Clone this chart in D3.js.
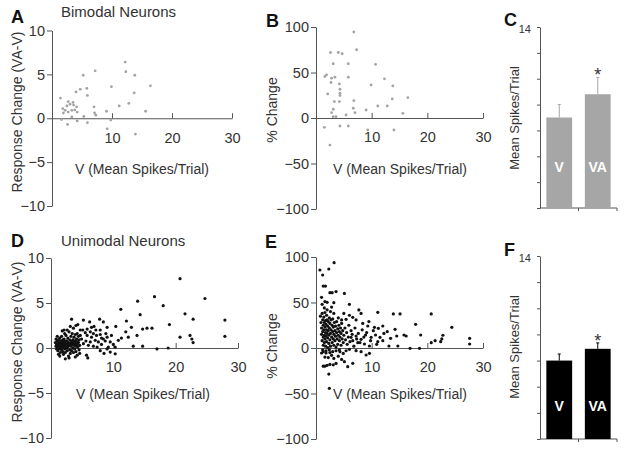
<!DOCTYPE html>
<html><head><meta charset="utf-8">
<script src="https://cdn.jsdelivr.net/npm/d3@7"></script>
<style>body{margin:0;background:#fff} svg{display:block} text{font-family:"Liberation Sans",Arial,sans-serif}</style>
</head><body><svg id="c" width="624" height="450"></svg>
<script>
// ---- data ----
const bimodalChange = [
[12.2,6.4],[5.2,4.9],[7.2,5.4],[12.3,5.3],[13.8,4.9],[9.9,3.6],[16.4,3.7],[4.7,3.3],[4.0,3.0],[5.8,3.4],[5.9,2.6],[13.7,2.9],[1.4,2.3],[2.7,1.9],[11.2,1.4],[12.8,1.7],[7.0,1.3],[9.1,0.8],[15.6,0.8],
[3.0,1.6],[3.6,1.5],[4.1,1.3],[3.8,0.95],[3.3,0.9],[2.7,0.7],[2.2,0.9],[1.8,1.1],[2.5,1.4],[4.2,0.7],[3.5,1.8],
[1.9,0.6],[7.1,0.6],[7.3,0.35],[5.3,0.2],[3.3,0.15],[1.6,-0.15],[4.2,-0.3],[5.9,-0.5],[2.6,-0.7],[9.8,-0.2],[9.2,-1.2],[13.9,-1.8]
];
const bimodalPct = [
[6.8,94.5],[7.3,75],[2.6,72],[4.0,72],[4.7,70.6],[3.1,59.6],[5.8,59.6],[10.7,59],[1.9,47.4],[1.6,45.6],[2.8,43.8],[3.4,44.9],[2.7,39],[5.8,44.9],[12.3,43],[9.9,36.4],[4.2,37.5],[13.8,35.3],[4.3,31.6],[4.3,27.2],[2.1,26.5],[4.3,24.6],[13.7,21],[16.5,22.4],[3.3,18],[4.2,18],[6.8,19],[11.1,13.2],[12.8,13.2],[6.7,10.7],[3.1,9.6],[9.0,8.8],[2.8,5.9],[7.0,5.9],[15.6,5.1],[5.4,3.3],[3.1,1.5],[3.6,1.5],[1.5,-10.3],[4.3,-8.8],[5.8,-8.8],[9.3,-13.2],[14.0,-13.2],[2.5,-29.8]
];
const unimodalChange = [
[20.7,7.7],[24.7,5.5],[16.6,5.7],[13.9,5.2],[18.0,4.7],[11.2,4.3],[14.3,3.7],[21.5,3.8],[22.8,3.2],[3.3,3.2],[5.2,3.1],[7.8,3.2],[6.2,2.9],[12.1,3.0],[8.4,2.9],[15.4,2.2],[16.2,2.2],[14.7,2.1],[19.0,2.6],[12.9,2.3],[10.4,2.4],[9.0,2.3],[6.9,2.4],[9.7,1.4],[12.0,1.8],[12.4,1.2],[13.8,1.4],[20.7,1.2],[22.3,1.4],[22.6,1.0],[22.8,0.6],[10.8,0.85],[11.3,1.1],[13.2,0.2],[14.7,0.2],[17.0,-0.1],[18.8,0.0],[9.0,-0.1],[9.5,-0.45],[10.3,-0.65],[8.5,-0.6],[7.9,-0.3],[5.9,-1.1],[5.7,-0.8],[4.6,-0.6],[27.9,3.1],[27.9,1.3],
[5.1,2.0],[5.5,1.7],[5.8,1.4],[6.3,1.8],[6.5,1.2],[6.8,1.6],[7.3,1.4],[7.9,2.0],[8.1,1.1],[7.1,0.85],[7.6,0.67],[6.3,0.67],[5.6,0.78],[5.2,0.48],[6.0,0.3],[6.8,0.2],[7.4,0.1],[8.1,0.4],[8.7,0.78],[8.8,1.6],[4.7,1.4],[4.9,1.0],[4.2,1.6],[4.7,2.0],[5.8,2.1],[6.5,2.3],[7.2,2.0],[7.9,1.5],[8.4,1.0],[9.0,1.2],[9.5,0.67],[10.0,0.4],[10.3,0.1],[9.2,0.1],
[0.7,0.6],[0.8,0.2],[0.9,-0.1],[0.9,0.4],[1.0,0.8],[1.0,0.0],[1.1,0.5],[1.1,-0.3],[1.2,0.2],[1.2,0.9],[1.3,0.6],[1.3,-0.1],[1.4,0.3],[1.4,1.1],[1.5,0.0],[1.5,0.5],[1.5,-0.5],[1.6,0.8],[1.6,0.2],[1.7,-0.2],[1.7,0.4],[1.7,1.3],[1.8,0.6],[1.8,0.0],[1.9,0.3],[1.9,-0.4],[1.9,0.9],[2.0,0.1],[2.0,0.6],[2.0,-0.7],[2.1,0.4],[2.1,1.0],[2.2,-0.1],[2.2,0.7],[2.3,0.2],[2.3,-0.5],[2.4,0.5],[2.4,1.4],[2.5,0.0],[2.5,0.8],[2.6,-0.3],[2.6,0.4],[2.7,1.1],[2.7,0.1],[2.8,-0.9],[2.8,0.6],[2.9,0.3],[2.9,1.8],[3.0,-0.2],[3.0,0.9],[3.1,0.5],[3.1,-0.6],[3.2,1.3],[3.2,0.2],[3.3,0.7],[3.3,-0.3],[3.4,0.4],[3.4,1.6],[3.5,0.0],[3.5,0.9],[3.6,0.6],[3.6,-0.5],[3.7,0.3],[3.7,1.2],[3.8,0.8],[3.8,-0.1],[3.9,0.5],[3.9,1.5],[4.0,0.2],[4.0,-0.4],[4.1,0.7],[4.1,1.0],[4.2,0.4],[4.2,-0.8],[4.3,0.1],[4.4,0.6],[4.4,1.3],[4.5,-0.2],[4.5,0.9],[1.2,-0.7],[2.2,1.6],[1.0,1.3],[3.6,2.2],[2.3,-1.2],[3.9,-1.0],[4.6,0.3],[0.8,1.0],[2.6,2.0],[4.0,2.5],[1.4,-0.9],[2.9,-1.1],[3.1,2.4],[4.3,2.6],[2.1,2.0],[1.8,1.9]
];
const unimodalPct = [
[3.25,93.8],[2.3,86.8],[0.7,85.7],[1.2,80.2],[1.3,68],[1.7,68],[2.5,60.8],[2.9,60.8],[3.6,62],[5.1,60],[1.0,55.7],[1.6,51],[2.0,50.2],[3.2,49.8],[6.0,48],[7.7,41.8],[8.1,38],[11.1,39.2],[13.9,37.4],[15.1,37.4],[20.7,37.4],[17.9,26],[5.0,38],[6.0,36],[6.6,33.7],[5.4,31.5],[4.6,30.8],[7.2,30.8],[8.4,27],[9.5,29],[9.3,24.2],[10.5,22.7],[11.2,21.6],[12.0,24.2],[12.8,18],[14.2,20.5],[15.8,14.3],[16.2,13.2],[14.5,13.2],[13.4,10.6],[12.2,16],[11.5,11.7],[10.7,14.3],[9.9,11.7],[8.9,14.3],[8.1,9.5],[7.2,13.2],[6.3,11.7],[6.6,8],[7.5,5.9],[8.7,4.4],[9.6,2.2],[11.1,7],[12.0,8],[13.1,2.2],[14.7,2.2],[16.9,-0.4],[18.6,-0.4],[18.8,14.3],[20.7,5.9],[21.4,8],[24.4,22.7],[27.6,10.6],[27.6,4.4],[22.4,7],[22.6,10],[22.8,14],
[2.4,-44.3],[2.3,-28.6],[1.3,-20],[1.6,-20],[2.0,-19],[2.5,-18],[3.1,-18.5],[3.6,-17],[5.7,-20.5],[5.1,-15],[4.6,-12.5],[6.6,-16.8],[9.6,-5.9],[9.0,-7.7],[8.1,-4],[7.2,-2.9],[1.6,-10],[2.2,-10.5],[2.8,-8],[3.2,-11.5],[4.0,-9],[1.0,-5.5],[1.3,-4],[1.8,-5.5],[2.5,-5],[4.3,-4],[4.9,-6],[5.4,-3],[6.0,-1.5],
[0.8,35],[0.9,28],[1.0,22],[1.0,15],[1.1,38],[1.1,8],[1.2,31],[1.2,18],[1.3,25],[1.3,12],[1.3,3],[1.4,34],[1.4,20],[1.5,28],[1.5,14],[1.5,6],[1.6,39],[1.6,23],[1.6,10],[1.7,17],[1.7,30],[1.7,2],[1.8,26],[1.8,13],[1.9,36],[1.9,20],[1.9,7],[2.0,31],[2.0,16],[2.1,24],[2.1,11],[2.1,0.5],[2.2,29],[2.2,19],[2.3,14],[2.3,5],[2.4,33],[2.4,22],[2.5,9],[2.5,27],[2.6,16],[2.6,2],[2.7,31],[2.7,20],[2.8,12],[2.9,25],[2.9,6],[3.0,18],[3.0,32],[3.1,10],[3.1,23],[3.2,15],[3.2,3],[3.3,28],[3.4,19],[3.4,8],[3.5,24],[3.5,13],[3.6,1],[3.7,17],[3.7,29],[3.8,10],[3.9,21],[3.9,4],[4.0,14],[4.0,33],[4.1,25],[4.2,8],[4.2,18],[4.3,12],[4.4,22],[4.5,3],[4.5,16],[4.6,27],[4.7,10],[4.8,19],[4.9,6],[5.0,14],[5.2,22],[5.3,9],[5.5,17],[5.6,4],[5.8,12],[5.9,25],[6.1,7],[6.3,19],[6.5,15],[6.8,2],[7.0,22],[7.3,10],[7.6,16],[7.9,6],[8.3,20],[8.6,12],[9.1,17],[9.8,8],[10.3,19],[10.9,4],[1.2,-2],[1.8,-3],[2.4,-2],[3.0,-4],[3.6,-3],[4.2,-2],[1.5,44],[2.0,42],[2.6,40],[3.2,38],[1.1,48],[2.8,45]
];
const barCats = ["V","VA"];
const bimodalMeans = [7.0, 8.8];
const bimodalErr = [1.0, 1.3];
const unimodalMeans = [6.0, 6.9];
const unimodalErr = [0.5, 0.45];
const changeTicks = [-10,-5,0,5,10];
const pctTicks = [-100,-50,0,50,100];
const xTicks = [10,20,30];
const barTicks = [0,2,4,6,8,10,12,14];

// ---- drawing ----
const svg = d3.select("#c");
const AX = "#555", TX = "#333";

function styleAxis(g, fs){
  g.selectAll("path,line").attr("stroke", AX).attr("stroke-width", 1);
  g.selectAll("text").attr("fill", TX).attr("font-size", fs);
}

function scatter(o){
  const x = d3.scaleLinear().domain([0,30]).range([o.x0, o.x1]);
  const y = d3.scaleLinear().domain(o.ydom).range([o.yb, o.yt]);
  const ya = svg.append("g").attr("transform", `translate(${o.x0},0)`)
    .call(d3.axisLeft(y).tickValues(o.yticks).tickSize(5).tickPadding(2).tickSizeOuter(0));
  styleAxis(ya, 14.5);
  const xa = svg.append("g").attr("transform", `translate(0,${y(0)})`)
    .call(d3.axisBottom(x).tickValues(xTicks).tickSize(-5).tickPadding(14).tickSizeOuter(0));
  styleAxis(xa, 14.5);
  svg.append("text").attr("x", o.xlx).attr("y", o.xly).attr("fill", TX).attr("font-size", 14)
    .attr("text-anchor", "middle").text("V (Mean Spikes/Trial)");
  svg.append("text").attr("transform", `translate(${o.ylx},${o.yly}) rotate(-90)`)
    .attr("fill", TX).attr("font-size", 14).attr("text-anchor", "middle").text(o.ylabel);
  svg.append("g").selectAll("circle").data(o.data).join("circle")
    .attr("cx", d => x(d[0])).attr("cy", d => y(d[1])).attr("r", o.r).attr("fill", o.color);
}

function bars(o){
  const x = d3.scaleBand().domain(barCats).range([o.x0, o.x1]).paddingInner(0.33).paddingOuter(0.165);
  const y = d3.scaleLinear().domain([0,14]).range([o.yb, o.yt]);
  const ya = svg.append("g").attr("transform", `translate(${o.x0},0)`)
    .call(d3.axisLeft(y).tickValues(barTicks).tickSize(3).tickPadding(6).tickSizeOuter(0)
      .tickFormat(d => d === 14 ? "14" : ""));
  styleAxis(ya, 11);
  ya.selectAll("text").attr("transform", "translate(0,2)");
  const bounds = [x.range()[0], x("VA") - x.step()*x.paddingInner()/2, x.range()[1]];
  svg.append("line").attr("x1", o.x0).attr("x2", o.x1).attr("y1", y(0)).attr("y2", y(0)).attr("stroke", AX);
  svg.append("g").selectAll("line").data(bounds.slice(1)).join("line")
    .attr("x1", d => d).attr("x2", d => d).attr("y1", y(0)).attr("y2", y(0)+3).attr("stroke", AX);
  const g = svg.append("g");
  barCats.forEach((c, i) => {
    const cx = x(c) + x.bandwidth()/2;
    g.append("line").attr("x1", cx).attr("x2", cx).attr("y1", y(o.means[i])).attr("y2", y(o.means[i]+o.errs[i]))
      .attr("stroke", o.color).attr("stroke-width", 1);
    g.append("line").attr("x1", cx-1.5).attr("x2", cx+1.5).attr("y1", y(o.means[i]+o.errs[i])).attr("y2", y(o.means[i]+o.errs[i]))
      .attr("stroke", o.color).attr("stroke-width", 1);
    g.append("rect").attr("x", x(c)).attr("width", x.bandwidth()).attr("y", y(o.means[i]))
      .attr("height", y(0) - y(o.means[i])).attr("fill", o.color);
    g.append("text").attr("x", cx).attr("y", y(0) - o.lab).attr("dy", "0.35em").attr("text-anchor", "middle")
      .attr("fill", "#fff").attr("font-weight", "bold").attr("font-size", 14).text(c);
  });
  const cv = x("VA") + x.bandwidth()/2;
  svg.append("text").attr("x", cv).attr("y", y(o.means[1]+o.errs[1]) + 4).attr("text-anchor", "middle")
    .attr("fill", TX).attr("font-size", 18).text("*");
  svg.append("text").attr("transform", `translate(${o.ylx},${o.yly}) rotate(-90)`)
    .attr("fill", TX).attr("font-size", 13).attr("text-anchor", "middle").text("Mean Spikes/Trial");
}

function letter(t, x, y){
  svg.append("text").attr("x", x).attr("y", y).attr("font-size", 18).attr("font-weight", "bold").attr("fill", "#111").text(t);
}

scatter({x0:52, x1:232, yb:206, yt:30.5, ydom:[-10,10], yticks:changeTicks, data:bimodalChange, color:"#a3a3a3", r:1.4,
  xlx:142, xly:174, ylx:22, yly:112, ylabel:"Response Change (VA-V)"});
scatter({x0:316, x1:483, yb:209, yt:27, ydom:[-100,100], yticks:pctTicks, data:bimodalPct, color:"#a3a3a3", r:1.4,
  xlx:400, xly:174, ylx:277, yly:110, ylabel:"% Change"});
scatter({x0:51, x1:238, yb:438, yt:258, ydom:[-10,10], yticks:changeTicks, data:unimodalChange, color:"#111", r:1.6,
  xlx:143, xly:399, ylx:22, yly:342, ylabel:"Response Change (VA-V)"});
scatter({x0:316, x1:483, yb:439, yt:257, ydom:[-100,100], yticks:pctTicks, data:unimodalPct, color:"#111", r:1.6,
  xlx:400, xly:399, ylx:277, yly:346, ylabel:"% Change"});
bars({x0:540, x1:617, yb:208, yt:27, means:bimodalMeans, errs:bimodalErr, color:"#a6a6a6", lab:41, ylx:519, yly:118});
bars({x0:540, x1:617, yb:439, yt:256, means:unimodalMeans, errs:unimodalErr, color:"#000", lab:33, ylx:519, yly:347});

svg.append("text").attr("x", 61).attr("y", 17).attr("font-size", 15).attr("fill", TX).text("Bimodal Neurons");
svg.append("text").attr("x", 61).attr("y", 246).attr("font-size", 15).attr("fill", TX).text("Unimodal Neurons");
letter("A", 11, 23); letter("B", 266, 27); letter("C", 504, 26);
letter("D", 11, 247); letter("E", 265, 248); letter("F", 504, 256);
</script></body></html>
